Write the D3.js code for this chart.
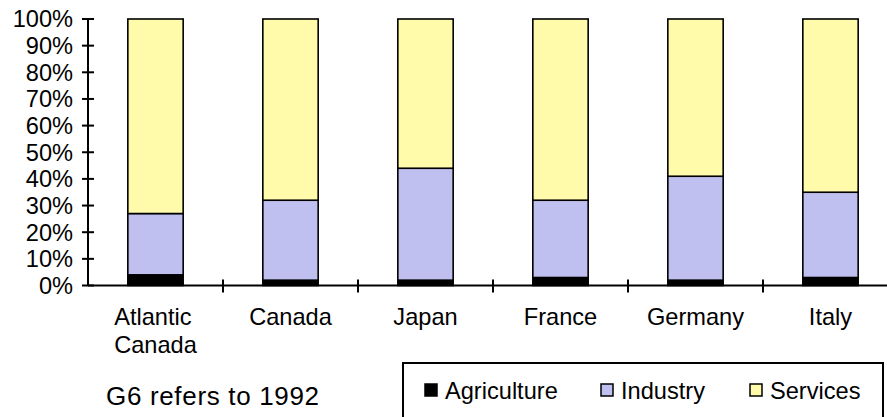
<!DOCTYPE html>
<html><head><meta charset="utf-8">
<script src="https://cdn.jsdelivr.net/npm/d3@7"></script>
<style>
body{margin:0;background:#fff;}
text{font-family:"Liberation Sans",Arial,sans-serif;fill:#000;}
</style></head>
<body><svg id="c" width="887" height="417"></svg>
<script>
const categories = [["Atlantic","Canada"],["Canada"],["Japan"],["France"],["Germany"],["Italy"]];
const agriculture = [4, 2, 2, 3, 2, 3];
const industry    = [23, 30, 42, 29, 39, 32];
const services    = [73, 68, 56, 68, 59, 65];
const seriesNames = ["Agriculture","Industry","Services"];
const seriesColors = ["#000000","#BFBFF0","#FFFBAA"];
const yTicks = [0,10,20,30,40,50,60,70,80,90,100];
const note = "G6 refers to 1992";

const svg = d3.select("#c");
const x = d3.scaleBand().domain(d3.range(categories.length)).range([88, 898]).paddingInner(0.59).paddingOuter(0.295);
const xb = d3.scaleBand().domain(d3.range(categories.length)).range([88, 898]);
const y = d3.scaleLinear().domain([0,100]).range([285.5, 19]);

const rows = categories.map((c,i)=>({i, Agriculture:agriculture[i], Industry:industry[i], Services:services[i]}));
const stack = d3.stack().keys(seriesNames)(rows);

stack.forEach((layer,k)=>{
  svg.append("g").selectAll("rect").data(layer).enter().append("rect")
    .attr("x", d=>x(d.data.i)).attr("width", x.bandwidth())
    .attr("y", d=>y(d[1])).attr("height", d=>y(d[0])-y(d[1]))
    .attr("fill", seriesColors[k]).attr("stroke","#000").attr("stroke-width",1.6);
});

// y axis
const ya = svg.append("g");
ya.append("line").attr("x1",88).attr("x2",88).attr("y1",y(0)).attr("y2",y(100)).attr("stroke","#000").attr("stroke-width",2);
yTicks.forEach(t=>{
  ya.append("line").attr("x1",82).attr("x2",94).attr("y1",y(t)).attr("y2",y(t)).attr("stroke","#000").attr("stroke-width",2);
  ya.append("text").attr("x",73).attr("y",y(t)).attr("dy","0.36em").attr("text-anchor","end")
    .style("font-size","23.6px").text(t+"%");
});
// x axis
const xa = svg.append("g");
xa.append("line").attr("x1",88).attr("x2",887).attr("y1",y(0)).attr("y2",y(0)).attr("stroke","#000").attr("stroke-width",2);
d3.range(1,categories.length).forEach(i=>{
  xa.append("line").attr("x1",xb(i)).attr("x2",xb(i)).attr("y1",y(0)-6).attr("y2",y(0)+7).attr("stroke","#000").attr("stroke-width",2);
});
categories.forEach((lines,i)=>{
  const cx = xb(i)+xb.bandwidth()/2;
  const g = xa.append("g");
  const ts = lines.map((l,j)=>g.append("text").attr("y",325+j*28).style("font-size","23.6px").text(l));
  const w = d3.max(ts, t=>t.node().getComputedTextLength());
  ts.forEach(t=>t.attr("x", cx - w/2));
});

// note
svg.append("text").attr("x",106).attr("y",405).style("font-size","26px")
  .attr("textLength",213).attr("lengthAdjust","spacing").text(note);

// legend
const lg = svg.append("g");
lg.append("rect").attr("x",403).attr("y",363).attr("width",480).attr("height",70).attr("fill","#fff").attr("stroke","#000").attr("stroke-width",2);
const lx = [425, 601, 750];
seriesNames.forEach((n,k)=>{
  lg.append("rect").attr("x",lx[k]).attr("y",384).attr("width",12).attr("height",12)
    .attr("fill",seriesColors[k]).attr("stroke","#000").attr("stroke-width",1.5);
  lg.append("text").attr("x",lx[k]+20).attr("y",399).style("font-size","23.6px").text(n);
});
</script></body></html>
